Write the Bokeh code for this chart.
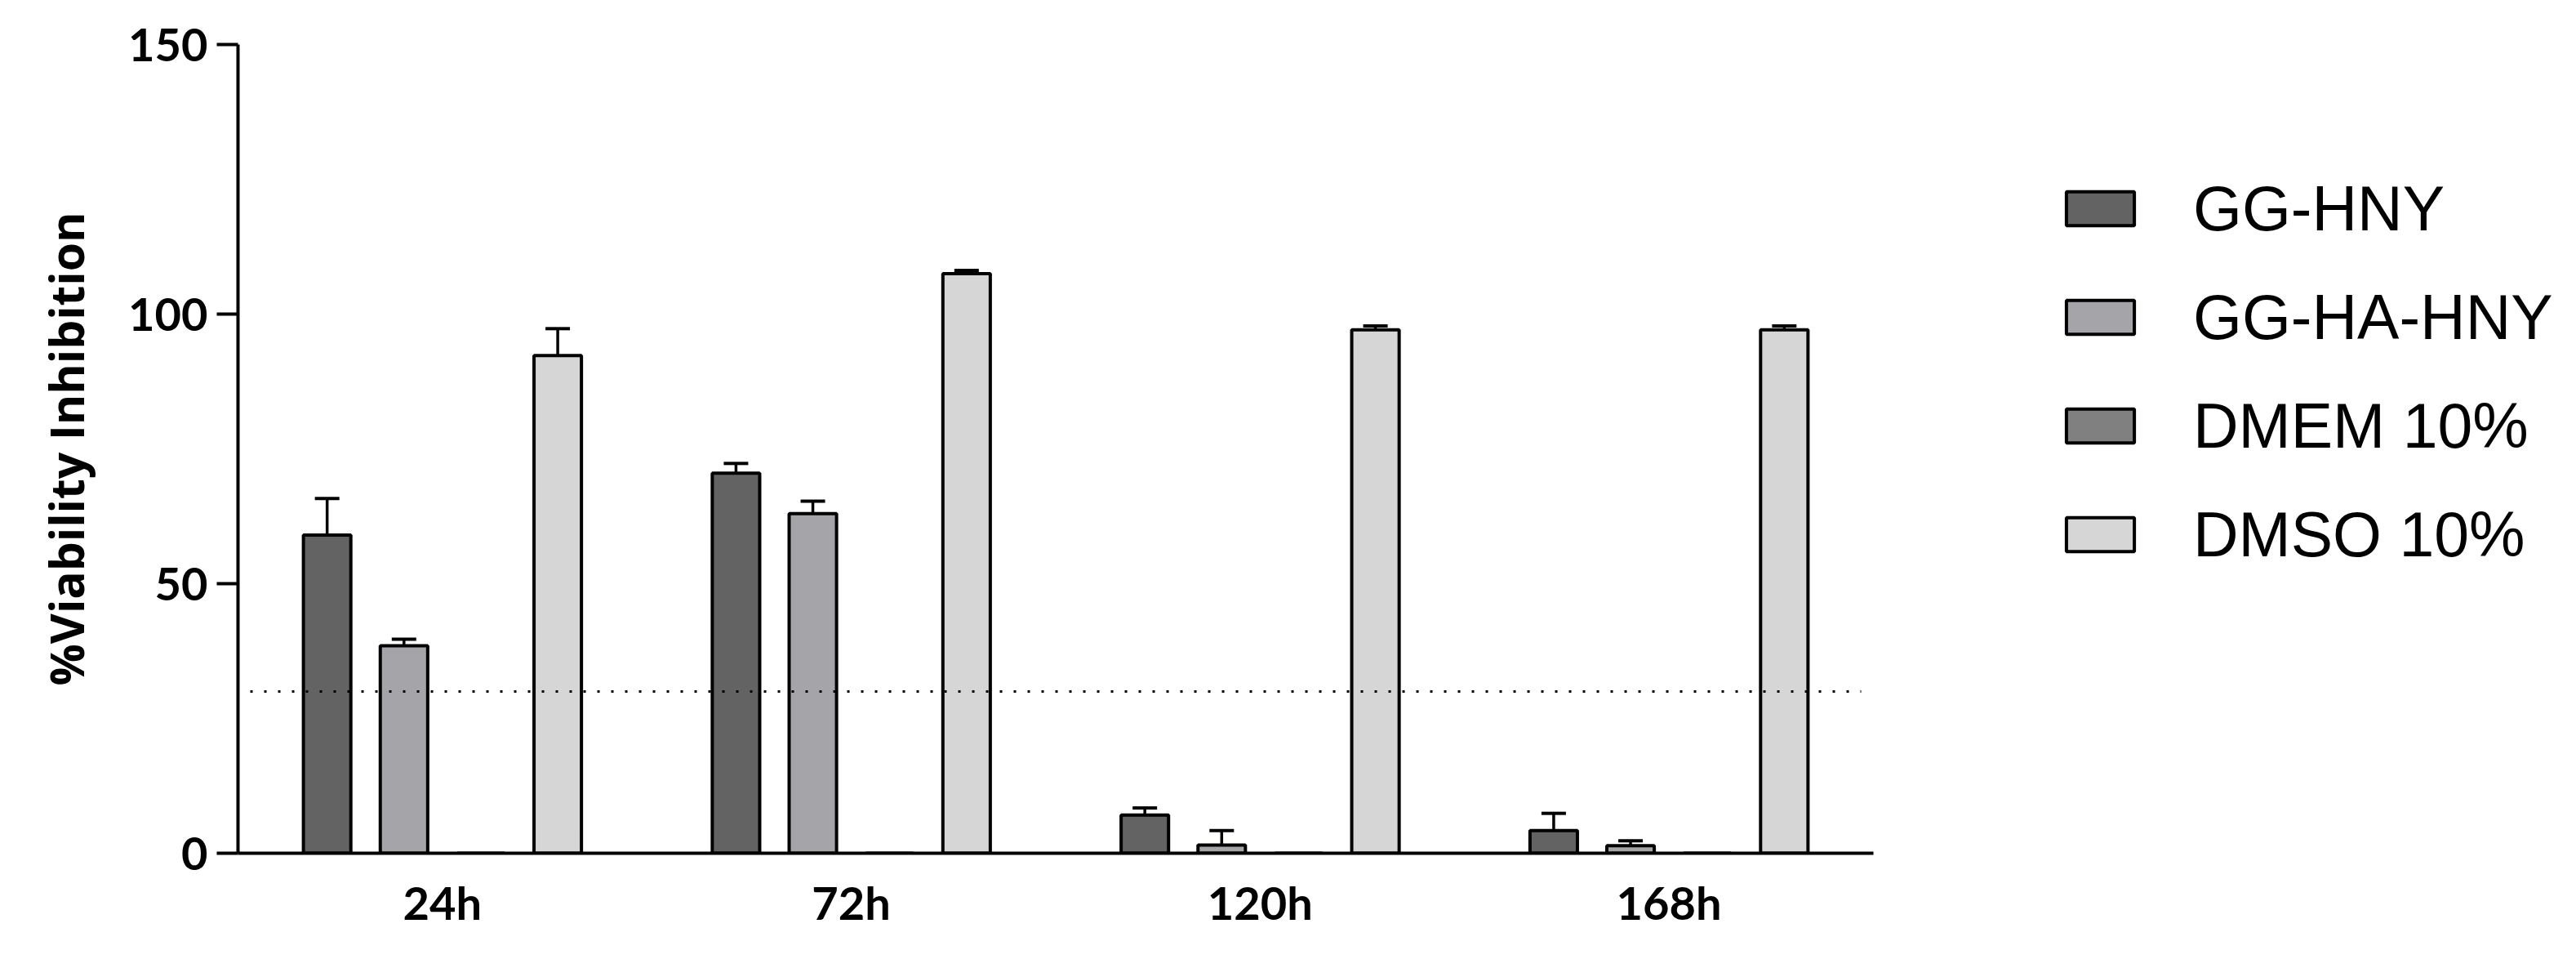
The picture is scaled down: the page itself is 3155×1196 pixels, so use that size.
from bokeh.plotting import figure
from bokeh.models import (Range1d, FixedTicker, Whisker, TeeHead,
                          ColumnDataSource, Legend, LegendItem)
from bokeh.embed import file_html
from bokeh.resources import INLINE

# ---- data ----
times = ["24h", "72h", "120h", "168h"]
series = ["GG-HNY", "GG-HA-HNY", "DMEM 10%", "DMSO 10%"]
gg_hny = [59.0, 70.5, 7.1, 4.2]
gg_hny_err = [6.8, 1.8, 1.3, 3.2]
gg_ha_hny = [38.5, 63.0, 1.5, 1.4]
gg_ha_hny_err = [1.2, 2.3, 2.7, 0.9]
dmem = [0.0, 0.0, 0.0, 0.0]
dmem_err = [0.0, 0.0, 0.0, 0.0]
dmso = [92.3, 107.5, 97.1, 97.1]
dmso_err = [5.0, 0.6, 0.7, 0.7]
threshold = 30
y_ticks = [0, 50, 100, 150]

colors = ["#636363", "#a5a4a8", "#808080", "#d6d6d6"]
offsets = [-0.282, -0.094, 0.094, 0.282]
means = [gg_hny, gg_ha_hny, dmem, dmso]
errs = [gg_hny_err, gg_ha_hny_err, dmem_err, dmso_err]

W, H = 3139, 1180
FL, FT, FB = 291, 54, 1044
AXIS_RIGHT = 2294          # where the category axis ends (px)
FR = W                     # frame extends to the right to host the legend
n = len(times)
px_per_unit = (AXIS_RIGHT - FL) / n
x_start = -0.5
x_end = x_start + (FR - FL) / px_per_unit

p = figure(width=W, height=H, x_range=Range1d(x_start, x_end), y_range=Range1d(0, 150),
           output_backend="svg", toolbar_location=None,
           min_border_left=FL, min_border_right=W - FR,
           min_border_top=FT, min_border_bottom=H - FB)
p.outline_line_color = None
p.xgrid.visible = False
p.ygrid.visible = False
p.background_fill_color = "white"

group_idx = list(range(n))
items = []
for i, name in enumerate(series):
    xs = [g + offsets[i] for g in group_idx]
    src = ColumnDataSource(dict(x=xs, mean=means[i],
                                upper=[m + e for m, e in zip(means[i], errs[i])]))
    r = p.vbar(x="x", top="mean", bottom=0, width=0.116, source=src,
               fill_color=colors[i], line_color="black", line_width=4)
    if i != 2:
        w = Whisker(base="x", lower="mean", upper="upper", source=src,
                    line_width=3.5, line_color="black",
                    upper_head=TeeHead(size=30, line_width=4, line_color="black"),
                    lower_head=None)
        p.add_layout(w)
    items.append(LegendItem(label=name, renderers=[r]))

# threshold line across the category axis
p.segment(x0=[x_start + 0.03], x1=[n - 0.5 - 0.03], y0=[threshold], y1=[threshold],
          line_color="black", line_width=3, line_dash="3 14")

legend = Legend(items=items, location=(2229, 340), padding=0, margin=0,
                glyph_width=104, glyph_height=52, label_standoff=62,
                label_text_font="Liberation Sans", label_text_font_size="77px",
                label_text_color="black",
                label_height=100, spacing=33,
                border_line_alpha=0, background_fill_alpha=0)
p.add_layout(legend)

# axes
p.yaxis.ticker = FixedTicker(ticks=y_ticks)
p.yaxis.axis_line_width = 4
p.yaxis.major_tick_line_width = 4
p.yaxis.major_tick_out = 26
p.yaxis.major_tick_in = 0
p.yaxis.minor_tick_line_color = None
p.yaxis.major_label_standoff = 11
p.yaxis.major_label_text_font = "Lato"
p.yaxis.major_label_text_font_style = "bold"
p.yaxis.major_label_text_font_size = "56px"
p.yaxis.major_label_text_color = "black"
p.yaxis.axis_label = "%Viability Inhibition"
p.yaxis.axis_label_text_font = "Open Sans"
p.yaxis.axis_label_text_font_style = "bold"
p.yaxis.axis_label_text_font_size = "57px"
p.yaxis.axis_label_text_color = "black"
p.yaxis.axis_label_standoff = 34

p.xaxis.ticker = FixedTicker(ticks=group_idx)
p.xaxis.major_label_overrides = {g: t for g, t in zip(group_idx, times)}
p.xaxis.bounds = (x_start, n - 0.5)
p.xaxis.axis_line_width = 4
p.xaxis.major_tick_line_color = None
p.xaxis.minor_tick_line_color = None
p.xaxis.major_label_standoff = 20
p.xaxis.major_label_text_font = "Lato"
p.xaxis.major_label_text_font_style = "bold"
p.xaxis.major_label_text_font_size = "56px"
p.xaxis.major_label_text_color = "black"

open("out.html", "w").write(file_html(p, INLINE))
